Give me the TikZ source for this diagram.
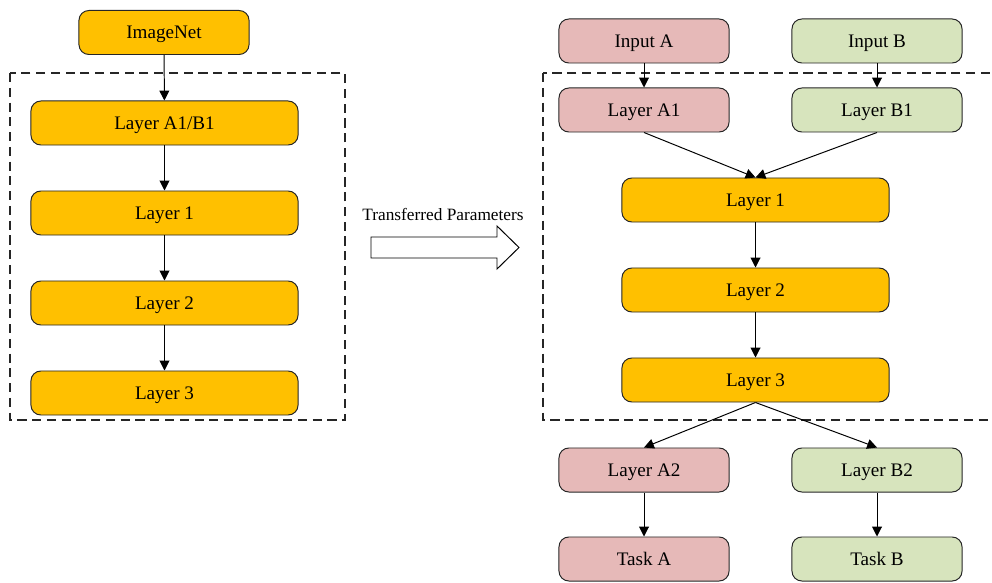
\documentclass[tikz,border=0pt]{standalone}
\usepackage{fontspec}
\setmainfont{Liberation Serif}
\usetikzlibrary{arrows.meta}
\definecolor{boxorange}{HTML}{FFC000}
\definecolor{boxred}{HTML}{E6B9B8}
\definecolor{boxgreen}{HTML}{D7E4BD}
\definecolor{boxline}{HTML}{262626}
\tikzset{
	layerbox/.style={draw=boxline, line width=0.7pt, rounded corners=7pt,
		minimum height=1.1cm, inner sep=0pt, text height=9pt, text depth=0pt,
		font=\fontsize{13.6}{16}\selectfont},
	smallbox/.style={layerbox, minimum width=4.25cm},
	widebox/.style={layerbox, minimum width=6.675cm},
	linkarrow/.style={draw=black, line width=0.7pt, -{Triangle[length=7pt,width=7pt]}},
	groupframe/.style={draw=black!85, line width=0.8pt, dash pattern=on 6.5pt off 4pt}
}
\begin{document}
\begin{tikzpicture}[x=0.025cm, y=-0.025cm]
	% page 992 x 583 px, 1 px = 0.025 cm
	\clip (0,0) rectangle (992,583);
	\useasboundingbox (0,0) rectangle (992,583);

	% pretraining side
	\node[smallbox, fill=boxorange] (imagenet) at (164,32.5) {ImageNet};
	\node[widebox, fill=boxorange] (lab1) at (164.5,123) {Layer A1/B1};
	\node[widebox, fill=boxorange] (pl1) at (164.5,213) {Layer 1};
	\node[widebox, fill=boxorange] (pl2) at (164.5,303) {Layer 2};
	\node[widebox, fill=boxorange] (pl3) at (164.5,393) {Layer 3};
	\draw[groupframe] (10,73) rectangle (345,420);

	\draw[linkarrow] (imagenet) -- (lab1);
	\draw[linkarrow] (lab1) -- (pl1);
	\draw[linkarrow] (pl1) -- (pl2);
	\draw[linkarrow] (pl2) -- (pl3);

	% transfer
	\node[font=\fontsize{12.3}{14}\selectfont] (transfer) at (443,214) {Transferred Parameters};
	\draw[draw=black, line width=0.7pt, fill=white]
		(371,237) -- (497,237) -- (497,226) -- (519,247.5)
		-- (497,269) -- (497,258) -- (371,258) -- cycle;

	% multi-task side
	\node[smallbox, fill=boxred] (ina) at (644,41) {Input A};
	\node[smallbox, fill=boxgreen] (inb) at (877,41) {Input B};
	\node[smallbox, fill=boxred] (la1) at (644,110) {Layer A1};
	\node[smallbox, fill=boxgreen] (lb1) at (877,110) {Layer B1};
	\node[widebox, fill=boxorange] (ml1) at (755.5,200) {Layer 1};
	\node[widebox, fill=boxorange] (ml2) at (755.5,290) {Layer 2};
	\node[widebox, fill=boxorange] (ml3) at (755.5,380) {Layer 3};
	\node[smallbox, fill=boxred] (la2) at (644,470) {Layer A2};
	\node[smallbox, fill=boxgreen] (lb2) at (877,470) {Layer B2};
	\node[smallbox, fill=boxred] (taska) at (644,559) {Task A};
	\node[smallbox, fill=boxgreen] (taskb) at (877,559) {Task B};
	\draw[groupframe] (543,73) rectangle (1010,420);

	\draw[linkarrow] (ina) -- (la1);
	\draw[linkarrow] (inb) -- (lb1);
	\draw[linkarrow] (la1.south) -- (ml1.north);
	\draw[linkarrow] (lb1.south) -- (ml1.north);
	\draw[linkarrow] (ml1) -- (ml2);
	\draw[linkarrow] (ml2) -- (ml3);
	\draw[linkarrow] (ml3.south) -- (la2.north);
	\draw[linkarrow] (ml3.south) -- (lb2.north);
	\draw[linkarrow] (la2) -- (taska);
	\draw[linkarrow] (lb2) -- (taskb);
\end{tikzpicture}
\end{document}
